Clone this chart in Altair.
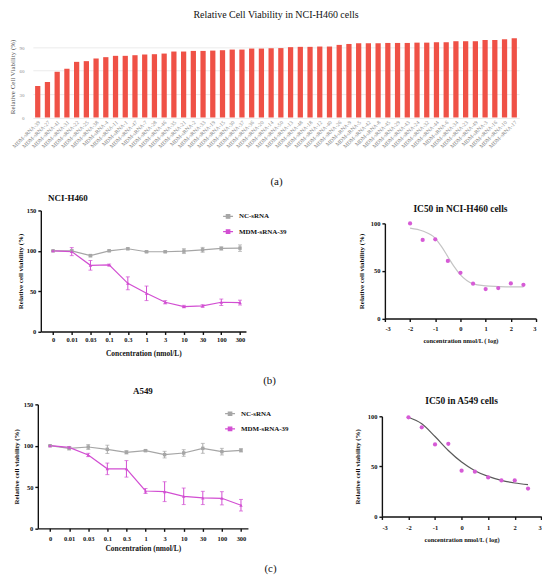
import altair as alt
import pandas as pd

# ---------------- data ----------------
srna_ids = [39, 27, 41, 31, 22, 25, 38, 4, 11, 1, 47, 7, 28, 46, 35, 21, 2, 33, 19, 15,
            30, 37, 36, 20, 14, 50, 13, 48, 18, 12, 40, 26, 9, 5, 42, 8, 45, 29, 43, 24,
            32, 44, 6, 34, 23, 49, 3, 16, 10, 17]
h460_screen = [40.3, 45.4, 58.5, 62.3, 71.2, 72.1, 75.5, 77.2, 78.9, 78.9,
               79.7, 80.6, 81.0, 81.8, 84.4, 84.4, 85.2, 85.2, 85.6, 86.1,
               86.9, 86.9, 88.2, 88.2, 88.6, 88.8, 90.0, 90.4, 90.4, 90.8,
               90.8, 92.9, 94.1, 95.0, 95.0, 95.0, 95.4, 95.4, 95.4, 95.8,
               95.8, 96.3, 96.3, 97.6, 97.6, 97.6, 99.2, 99.2, 100.1, 101.4]

concentrations = ["0", "0.01", "0.03", "0.1", "0.3", "1", "3", "10", "30", "100", "300"]
groups = ["NC-sRNA", "MDM-sRNA-39"]

h460_nc_mean = [100, 100, 94, 100, 102.5, 98.8, 98.8, 99.6, 101.2, 102.9, 103.3]
h460_nc_sd = [0.5, 1, 1.5, 1, 1, 1, 1, 3, 3, 2, 4]
h460_mdm_mean = [100, 99, 82, 82.5, 59.7, 47.3, 36.2, 30.9, 31.7, 36.2, 35.8]
h460_mdm_sd = [0, 5, 6, 1, 8, 9, 2, 1.5, 1.5, 4, 3]

a549_nc_mean = [100, 96.8, 98.4, 95.6, 92, 94, 89.2, 91.2, 96.8, 92.8, 94.4]
a549_nc_sd = [0.5, 2, 3, 5, 2, 1, 4, 4, 6, 4, 2]
a549_mdm_mean = [100, 98, 88.8, 72, 72, 45.2, 44.4, 38.8, 36.8, 36.4, 28]
a549_mdm_sd = [0, 1, 2, 7, 10, 3, 12, 10, 8, 8, 7]

log_conc = [-2, -1.5, -1, -0.5, 0, 0.5, 1, 1.5, 2, 2.5]
h460_ic50_points = [100, 82.6, 83.3, 60.6, 48.1, 36.6, 31, 32, 36.9, 35.5]
h460_fit_x = [-2, -1.5, -1, -0.75, -0.5, -0.25, 0, 0.25, 0.5, 1, 1.5, 2, 2.5]
h460_fit_y = [95.1, 92, 84.3, 75.5, 65, 54.5, 45.8, 39.9, 36.4, 34.3, 33.6, 33.2, 33.2]
a549_ic50_points = [99, 89, 71.9, 72.5, 45.7, 44.7, 39, 36, 36, 27.8]
a549_fit_x = [-2, -1.5, -1, -0.5, 0, 0.5, 1, 1.5, 2, 2.5]
a549_fit_y = [99, 92.5, 79.8, 65.9, 54.3, 45.7, 40, 36, 33.4, 31.8]

# ---------------- style ----------------
SERIF = "Liberation Serif"
INK = "#111111"
GRAY = "#a6a6a6"
MAGENTA = "#d24ed2"
DOT = "#d65bd6"
BAR = "#ef5146"
SYMBOL = "M-1,0L1,0M-0.35,-0.35L0.35,-0.35L0.35,0.35L-0.35,0.35Z"


def spacer(w, h, title=None):
    c = alt.Chart(pd.DataFrame({"s": [0]})).mark_point(opacity=0, size=1).encode(
        x=alt.value(w / 2), y=alt.value(h / 2))
    if title is not None:
        return c.properties(width=w, height=h, title=title)
    return c.properties(width=w, height=h)


def bold_axis(**kw):
    base = dict(domainColor=INK, domainWidth=1.4, tickColor=INK, tickWidth=1.4, tickSize=3,
                labelFont=SERIF, labelFontSize=6.5, labelFontWeight="bold", labelColor=INK,
                titleFont=SERIF, titleFontWeight="bold", titleColor=INK, grid=False,
                labelOverlap=False)
    base.update(kw)
    return alt.Axis(**base)


def ttl(text, size, offset, anchor="middle", dx=0, dy=0, weight="bold", align=None):
    kw = dict(font=SERIF, fontSize=size, fontWeight=weight, color=INK, anchor=anchor,
              frame="group", offset=offset, baseline="middle", dx=dx, dy=dy)
    if align is not None:
        kw["align"] = align
    return alt.TitleParams(text, **kw)


# ---------------- panel (a) ----------------
df_a = pd.DataFrame({"name": [f"MDM-sRNA-{i}" for i in srna_ids], "viability": h460_screen})
panel_a = alt.Chart(df_a).mark_bar(color=BAR).encode(
    x=alt.X("name:N", sort=None,
            scale=alt.Scale(paddingInner=0.46, paddingOuter=0.23),
            axis=alt.Axis(title="(a)", labelAngle=-45, labelFont=SERIF, labelFontSize=5.5,
                          labelColor="#8a8a8a", labelPadding=2, ticks=False, tickSize=0,
                          domain=False, labelOverlap=False, titleFont=SERIF, titleFontSize=11,
                          titleFontWeight="normal", titleColor=INK, titleY=64,
                          titleBaseline="middle")),
    y=alt.Y("viability:Q", scale=alt.Scale(domain=[0, 105], nice=False),
            axis=alt.Axis(title="Relative Cell Viability (%)", values=[0, 30, 60, 90], grid=True,
                          gridColor="#e6e6e6", gridWidth=0.8, domain=False, ticks=False,
                          tickSize=0, labelFont=SERIF, labelFontSize=5, labelColor="#8a8a8a",
                          labelPadding=9, titleFont=SERIF, titleFontSize=7,
                          titleFontWeight="normal", titleColor="#555555", titlePadding=3)),
).properties(width=489, height=82.5,
             title=ttl("Relative Cell Viability in NCI-H460 cells", 10, 10.5, weight="normal"))


# ---------------- dose-response panels ----------------
def dose_panel(nc_mean, nc_sd, mdm_mean, mdm_sd, width, height, pad, align,
               x_label_pad, x_title_pad, y_title_pad, legend_x, legend_y, title):
    n = len(concentrations)
    df = pd.DataFrame({
        "conc": concentrations + concentrations,
        "group": [groups[0]] * n + [groups[1]] * n,
        "mean": nc_mean + mdm_mean,
        "sd": nc_sd + mdm_sd,
    })
    df["lo"] = df["mean"] - df["sd"]
    df["hi"] = df["mean"] + df["sd"]
    ytitle = "Relative cell viability (%)"
    x = alt.X("conc:N", sort=concentrations, title="Concentration (nmol/L)",
              scale=alt.Scale(type="point", padding=pad, align=align),
              axis=bold_axis(labelAngle=0, labelPadding=x_label_pad, titleFontSize=7.5,
                             titlePadding=x_title_pad))
    yscale = alt.Scale(domain=[0, 150], nice=False)
    cscale = alt.Scale(domain=groups, range=[GRAY, MAGENTA])
    legend = alt.Legend(title=None, orient="none", legendX=legend_x, legendY=legend_y,
                        symbolType=SYMBOL, symbolSize=100, symbolStrokeWidth=1.2,
                        labelFont=SERIF, labelFontSize=7, labelFontWeight="bold",
                        labelColor=INK, labelOffset=5, rowPadding=4.3, padding=0)
    color_leg = alt.Color("group:N", sort=groups, scale=cscale, legend=legend)
    color_nol = alt.Color("group:N", sort=groups, scale=cscale, legend=None)
    base = alt.Chart(df).encode(x=x)
    line = base.mark_line(strokeWidth=1.2).encode(
        color=color_leg,
        y=alt.Y("mean:Q", scale=yscale, title=ytitle,
                axis=bold_axis(values=[0, 50, 100, 150], labelPadding=2, titleFontSize=7,
                               titlePadding=y_title_pad)))
    err = base.mark_rule(strokeWidth=1).encode(
        color=color_nol, y=alt.Y("lo:Q", scale=yscale, title=ytitle), y2="hi:Q")
    cap_lo = base.mark_tick(size=4, thickness=1).encode(
        color=color_nol, y=alt.Y("lo:Q", scale=yscale, title=ytitle))
    cap_hi = base.mark_tick(size=4, thickness=1).encode(
        color=color_nol, y=alt.Y("hi:Q", scale=yscale, title=ytitle))
    pts_nc = base.transform_filter(alt.datum.group == groups[0]).mark_point(
        filled=True, size=12, opacity=1, shape="square").encode(
        color=color_nol, y=alt.Y("mean:Q", scale=yscale, title=ytitle))
    pts_mdm = base.transform_filter(alt.datum.group == groups[1]).mark_point(
        filled=True, size=12, opacity=1, shape="triangle-up").encode(
        color=color_nol, y=alt.Y("mean:Q", scale=yscale, title=ytitle))
    return alt.layer(line, err, cap_lo, cap_hi, pts_nc, pts_mdm).properties(
        width=width, height=height, title=title)


def ic50_panel(points, fit_x, fit_y, width, height, curve_color, y_title_pad,
               x_label_pad, x_title_pad, title):
    pts_df = pd.DataFrame({"logc": log_conc, "viability": points})
    fit_df = pd.DataFrame({"logc": fit_x, "viability": fit_y})
    x = alt.X("logc:Q", title="concentration nmol/L ( log)",
              scale=alt.Scale(domain=[-3, 3], nice=False),
              axis=bold_axis(values=[-3, -2, -1, 0, 1, 2, 3], labelExpr="'' + datum.value",
                             labelPadding=x_label_pad, titleFontSize=6.5,
                             titlePadding=x_title_pad))
    y = alt.Y("viability:Q", title="Relative cell viability (%)",
              scale=alt.Scale(domain=[0, 100], nice=False),
              axis=bold_axis(values=[0, 50, 100], labelPadding=2, titleFontSize=7,
                             titlePadding=y_title_pad))
    curve = alt.Chart(fit_df).mark_line(color=curve_color, strokeWidth=1.2,
                                        interpolate="monotone").encode(x=x, y=y)
    dots = alt.Chart(pts_df).mark_circle(color=DOT, size=18, opacity=1).encode(x=x, y=y)
    return alt.layer(curve, dots).properties(width=width, height=height, title=title)


panel_bl = dose_panel(h460_nc_mean, h460_nc_sd, h460_mdm_mean, h460_mdm_sd,
                      206.3, 121.7, 0.487, 0.672, 2, 7, 2.2, 182.3, 0,
                      ttl("NCI-H460", 9, 0.75, anchor="start", dx=7.3))
panel_br = ic50_panel(h460_ic50_points, h460_fit_x, h460_fit_y, 152, 95.7, "#c4c4c4",
                      5.5, 3.7, 5.5, ttl("IC50 in NCI-H460 cells", 9.5, 1.5))
panel_cl = dose_panel(a549_nc_mean, a549_nc_sd, a549_mdm_mean, a549_mdm_sd,
                      211.3, 124.7, 0.503, 0.637, 3.75, 3.3, 3.5, 187.3, 3.4,
                      ttl("A549", 9, 1.2))
panel_cr = ic50_panel(a549_ic50_points, a549_fit_x, a549_fit_y, 160.3, 100.7, "#5a5a5a",
                      6.5, 5, 5.5, ttl("IC50 in A549 cells", 9.5, 2.5))


def indep(c):
    return c.resolve_scale(color="independent").resolve_legend(color="independent")


row_a = alt.hconcat(spacer(25, 159), panel_a, spacing=0, bounds="flush")
row_b = indep(alt.hconcat(
    spacer(32.7, 165.5), panel_bl, spacer(139, 1),
    alt.vconcat(spacer(1, 13), panel_br, spacing=0, bounds="flush"),
    spacing=0, bounds="flush"))
row_c = indep(alt.hconcat(
    spacer(29.7, 1, ttl("(b)", 11, 12, anchor="start", dx=263, weight="normal",
                        align="center")),
    panel_cl,
    spacer(133.7, 1, ttl("(c)", 11, 0, anchor="start", dx=22, dy=176.2, weight="normal",
                         align="center")),
    alt.vconcat(spacer(1, 12), panel_cr, spacing=0, bounds="flush"),
    spacing=0, bounds="flush"))

chart = indep(alt.vconcat(row_a, row_b, row_c, spacing=0)).properties(
    padding=0
).configure(font=SERIF).configure_view(stroke=None)

chart.save("out.html", embed_options={"renderer": "svg", "actions": False})
